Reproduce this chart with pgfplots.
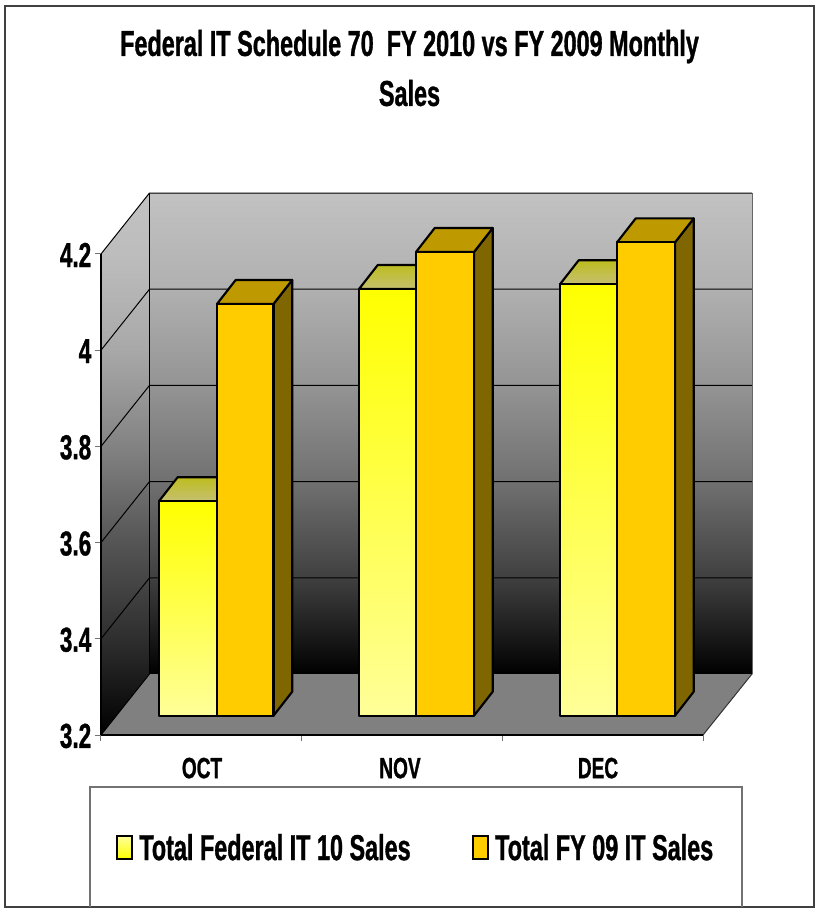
\documentclass[border=0pt]{standalone}
\usepackage{fontspec}
\setmainfont[FakeStretch=0.65,BoldFeatures={FakeBold=0.9}]{Liberation Sans}
\usepackage{pgfplots}
\pgfplotsset{compat=1.18}
\definecolor{fyfront}{HTML}{FFCC00}
\definecolor{fytop}{HTML}{BF9900}
\definecolor{fyside}{HTML}{7F6600}
\definecolor{fedpale}{HTML}{FFFF99}
\definecolor{fedmid}{HTML}{FFFF7A}
\definecolor{fedyel}{HTML}{FFFF00}
\definecolor{fedtopa}{HTML}{BDBD1F}
\definecolor{fedtopb}{HTML}{C6C070}
\definecolor{floorg}{HTML}{808080}
\pgfdeclareverticalshading{backwall}{100bp}{gray(0bp)=(0); gray(25bp)=(0); gray(35bp)=(0.25); gray(45bp)=(0.44); gray(55bp)=(0.58); gray(65bp)=(0.69); gray(75bp)=(0.76); gray(100bp)=(0.76)}
\pgfdeclareverticalshading{leftwall}{100bp}{gray(0bp)=(0); gray(25bp)=(0); gray(33.8bp)=(0.18); gray(42.7bp)=(0.33); gray(51.6bp)=(0.51); gray(60.5bp)=(0.66); gray(69.4bp)=(0.74); gray(75bp)=(0.76); gray(100bp)=(0.76)}
\pgfmathdeclarefunction{V}{1}{\pgfmathparse{3.2+(735-#1)/481}}
% 3-D column: x0, x1, value, front style, top style, side style
\newcommand{\threeDbar}[6]{%
  \addplot[forget plot,draw=black,line width=1.6pt,line join=round,#6] coordinates
    {(#2,3.2401) (#2+18.7,3.29) (#2+18.7,#3+0.09) (#2,#3+0.0401)} --cycle;
  \addplot[forget plot,draw=black,line width=1.6pt,line join=round,#5] coordinates
    {(#1,#3+0.0401) (#1+18.7,#3+0.09) (#2+18.7,#3+0.09) (#2,#3+0.0401)} --cycle;
  \addplot[forget plot,draw=black,line width=1.6pt,line join=round,#4] coordinates
    {(#1,3.2401) (#2,3.2401) (#2,#3+0.0401) (#1,#3+0.0401)} --cycle;
}
\newcommand{\grid}[1]{%
  \addplot[forget plot,black,line width=0.75pt] coordinates
    {(101,#1) (149.5,#1+0.1268) (752,#1+0.1268)};
}
\begin{document}
\begin{tikzpicture}
\useasboundingbox (-75.75pt,-132pt) rectangle (537.75pt,551.25pt);
\begin{axis}[
  at={(0pt,0pt)},anchor=south west,
  scale only axis,width=451.5pt,height=360.75pt,
  xmin=101,xmax=703,ymin=3.2,ymax=4.2,
  clip=false,axis on top,
  axis x line=bottom,axis y line=left,
  axis line style={-,black,line width=0.9pt},
  xtick={101,301.7,502.3,703},xticklabels={},
  xtick style={draw=black!55,line width=0.75pt},
  extra x ticks={202,400,598},extra x tick labels={OCT,NOV,DEC},
  extra x tick style={major tick length=0pt},
  xticklabel style={font=\fontsize{22}{24}\selectfont\bfseries,yshift=-13.5pt},
  ytick={3.2,3.4,3.6,3.8,4,4.2},
  ytick style={draw=black!55,line width=0.75pt},
  major tick length=4.5pt,tick align=outside,
  yticklabel style={font=\fontsize{26}{28}\selectfont\bfseries,/pgf/number format/assume math mode=true,yshift=-0.7pt,xshift=0.7pt},
  title={Federal IT Schedule 70\ \ FY 2010 vs FY 2009 Monthly\\Sales},
  title style={at={(axis description cs:0.5125,1.37)},anchor=center,align=center,
     font=\fontsize{27}{37.5}\selectfont\bfseries},
  legend style={at={(axis cs:416,2.965)},anchor=center,draw=none,fill=none,
     legend columns=2,font=\fontsize{27}{30}\selectfont\bfseries,
     /tikz/every even column/.style={column sep=44pt},
     /tikz/every odd column/.style={column sep=3pt}},
  legend cell align=left,
]
% frame
\draw[black!75,line width=1pt] (axis cs:5,{V(6)}) rectangle (axis cs:814,{V(907)});
% left wall
\addplot[forget plot,draw=none,shade,shading=leftwall] coordinates
  {(101,{V(735)}) (101,{V(254)}) (149.5,{V(193.5)}) (149.5,{V(674)})} --cycle;
% back wall
\addplot[forget plot,draw=none,shade,shading=backwall] coordinates
  {(149.5,{V(674)}) (149.5,{V(193.5)}) (752,{V(193.5)}) (752,{V(674)})} --cycle;
% floor
\addplot[forget plot,draw=none,fill=floorg] coordinates
  {(101,{V(735)}) (703,{V(735)}) (752,{V(674)}) (149.5,{V(674)})} --cycle;
\grid{3.4}\grid{3.6}\grid{3.8}\grid{4.0}\grid{4.2}
\addplot[forget plot,black,line width=0.75pt] coordinates {(149.5,{V(674)}) (149.5,{V(193.5)})};
\addplot[forget plot,black!60,line width=0.75pt] coordinates {(752,{V(193.5)}) (752,{V(674)})};
\addplot[forget plot,black,line width=0.75pt] coordinates {(101,{V(735)}) (149.5,{V(674)})};
\addplot[forget plot,black!80,line width=0.75pt] coordinates {(703,{V(735)}) (752,{V(674)})};
% columns
\threeDbar{159}{217}{3.646}{top color=fedyel,middle color=fedmid,bottom color=fedpale}{top color=fedtopa,bottom color=fedtopb}{fill=fyside}
\threeDbar{217}{273.5}{4.056}{fill=fyfront}{fill=fytop}{fill=fyside}
\threeDbar{359}{416}{4.087}{top color=fedyel,middle color=fedmid,bottom color=fedpale}{top color=fedtopa,bottom color=fedtopb}{fill=fyside}
\threeDbar{416}{474}{4.164}{fill=fyfront}{fill=fytop}{fill=fyside}
\threeDbar{560}{617}{4.097}{top color=fedyel,middle color=fedmid,bottom color=fedpale}{top color=fedtopa,bottom color=fedtopb}{fill=fyside}
\threeDbar{617}{675}{4.184}{fill=fyfront}{fill=fytop}{fill=fyside}
% legend box
\draw[black!55,line width=0.9pt] (axis cs:90,{V(907)}) -- (axis cs:90,{V(787)}) -- (axis cs:742,{V(787)}) -- (axis cs:742,{V(907)});
\addlegendimage{legend image code/.code={\path[draw=black,line width=1.4pt,top color=fedpale,bottom color=fedyel] (0pt,-8pt) rectangle (11pt,9pt);}}
\addlegendentry{Total Federal IT 10 Sales}
\addlegendimage{legend image code/.code={\path[draw=black,line width=1.4pt,fill=fyfront] (0pt,-8pt) rectangle (11pt,9pt);}}
\addlegendentry{Total FY 09 IT Sales}
\end{axis}
\end{tikzpicture}
\end{document}
